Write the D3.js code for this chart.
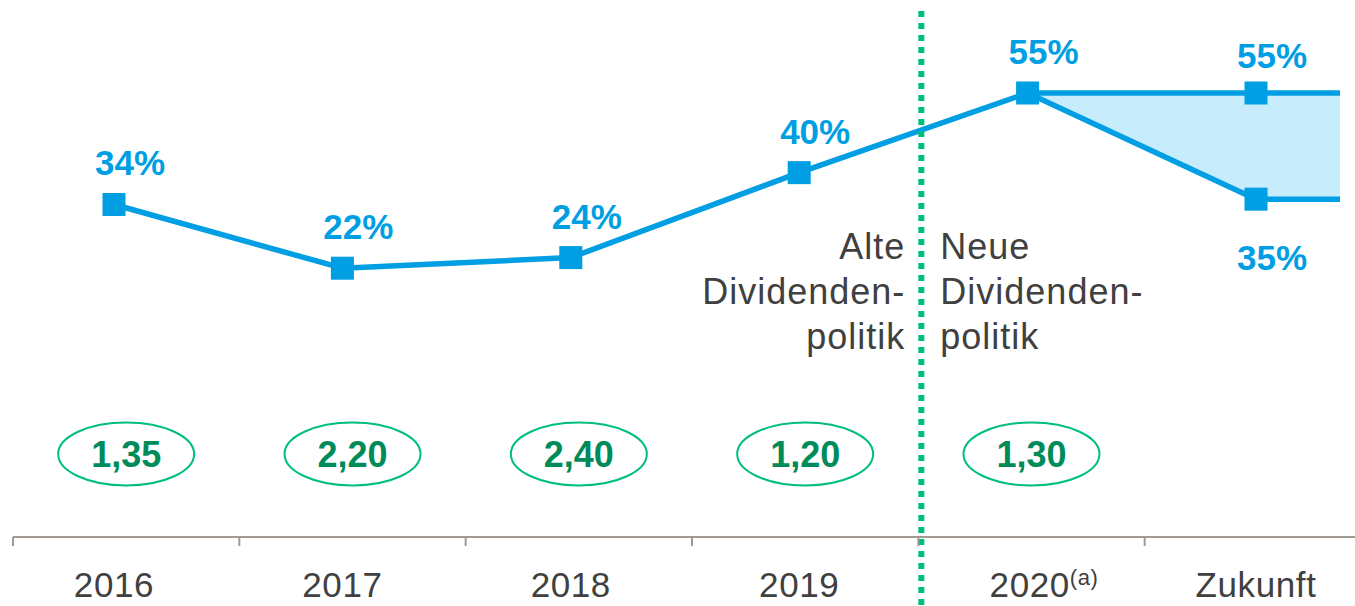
<!DOCTYPE html>
<html>
<head>
<meta charset="utf-8">
<script src="https://cdn.jsdelivr.net/npm/d3@7"></script>
<style>
  html, body { margin: 0; padding: 0; background: #fff; }
  svg { display: block; font-family: "Liberation Sans", Arial, sans-serif; }
</style>
</head>
<body>
<svg id="chart"></svg>
<script>
// categories and values
const categories = ["2016", "2017", "2018", "2019", "2020", "Zukunft"];
const payoutYears = ["2016", "2017", "2018", "2019", "2020"];
const payoutValues = [34, 22, 24, 40, 55];
const futureHigh = 55;
const futureLow = 35;
const dividendValues = [1.35, 2.20, 2.40, 1.20, 1.30];
const oldPolicyLines = ["Alte", "Dividenden-", "politik"];
const newPolicyLines = ["Neue", "Dividenden-", "politik"];

const width = 1355, height = 606;
const blue = "#009fe3", lightBlue = "#c7ecfc";
const green = "#00bf7d", darkGreen = "#008b5a", grey = "#404040";

const svg = d3.select("#chart").attr("width", width).attr("height", height);

// band scale for the axis ticks, point scale for the marks
const xBand = d3.scaleBand().domain(categories).range([13, 1371]);
const x = d3.scalePoint().domain(categories).range([114, 1256]);
const y = d3.scaleLinear().domain([0, 55]).range([385, 93]);
const rightEdge = 1340;
const fmt = v => d3.format(".2f")(v).replace(".", ",");

// range area for the future
const future = [
    {x: x("2020"), hi: 55, lo: 55},
    {x: x("Zukunft"), hi: futureHigh, lo: futureLow},
    {x: rightEdge, hi: futureHigh, lo: futureLow}
];
svg.append("path")
    .datum(future)
    .attr("fill", lightBlue)
    .attr("d", d3.area().x(d => d.x).y0(d => y(d.lo)).y1(d => y(d.hi)));

const line = d3.line().x(d => d.x).y(d => d.y);
svg.append("path")
    .datum(future.map(d => ({x: d.x, y: y(d.hi)})))
    .attr("fill", "none").attr("stroke", blue).attr("stroke-width", 5.5)
    .attr("d", line);
svg.append("path")
    .datum(future.map(d => ({x: d.x, y: y(d.lo)})))
    .attr("fill", "none").attr("stroke", blue).attr("stroke-width", 5.5)
    .attr("d", line);

// main payout line
const mainPts = payoutYears.map((c, i) => ({x: x(c), y: y(payoutValues[i]), v: payoutValues[i]}));
svg.append("path")
    .datum(mainPts)
    .attr("fill", "none").attr("stroke", blue).attr("stroke-width", 5.5)
    .attr("stroke-linejoin", "round")
    .attr("d", line);

const allPts = mainPts.concat([
    {x: x("Zukunft"), y: y(futureHigh), v: futureHigh, dy: -25},
    {x: x("Zukunft"), y: y(futureLow), v: futureLow, dy: 71}
]);

svg.append("g").selectAll("rect")
    .data(allPts).enter()
    .append("rect")
    .attr("x", d => d.x - 11.5)
    .attr("y", d => d.y - 11.5)
    .attr("width", 23).attr("height", 23)
    .attr("fill", blue);

svg.append("g").selectAll("text")
    .data(allPts).enter()
    .append("text")
    .attr("x", d => d.x + 16)
    .attr("y", d => d.y + (d.dy !== undefined ? d.dy : -29))
    .attr("text-anchor", "middle")
    .attr("font-size", 35).attr("font-weight", "bold")
    .attr("fill", blue)
    .text(d => d.v + "%");

// divider between old and new policy
const divX = xBand("2020") + 3;
svg.append("line")
    .attr("x1", divX).attr("x2", divX)
    .attr("y1", 11).attr("y2", height)
    .attr("stroke", green).attr("stroke-width", 6)
    .attr("stroke-dasharray", "6 6");

svg.append("g").selectAll("text")
    .data(oldPolicyLines).enter()
    .append("text")
    .attr("x", divX - 16)
    .attr("y", (d, i) => 259 + i * 45)
    .attr("text-anchor", "end")
    .attr("font-size", 36).attr("letter-spacing", 1)
    .attr("fill", grey)
    .text(d => d);

svg.append("g").selectAll("text")
    .data(newPolicyLines).enter()
    .append("text")
    .attr("x", divX + 19)
    .attr("y", (d, i) => 259 + i * 45)
    .attr("font-size", 36).attr("letter-spacing", 1)
    .attr("fill", grey)
    .text(d => d);

// dividend ovals
const ovals = svg.append("g").selectAll("g")
    .data(dividendValues).enter()
    .append("g")
    .attr("transform", (d, i) => `translate(${xBand(categories[i]) + xBand.bandwidth() / 2},454)`);
ovals.append("ellipse")
    .attr("rx", 68).attr("ry", 31.5)
    .attr("fill", "none").attr("stroke", green).attr("stroke-width", 2);
ovals.append("text")
    .attr("y", 13)
    .attr("text-anchor", "middle")
    .attr("font-size", 36).attr("font-weight", "bold")
    .attr("fill", darkGreen)
    .text(d => fmt(d));

// x axis
const axisY = 537;
const axis = svg.append("g").attr("class", "axis");
axis.append("line")
    .attr("x1", xBand(categories[0])).attr("x2", width)
    .attr("y1", axisY).attr("y2", axisY)
    .attr("stroke", "#a19a92").attr("stroke-width", 2);
axis.selectAll("line.tick")
    .data(categories).enter()
    .append("line")
    .attr("class", "tick")
    .attr("x1", d => xBand(d)).attr("x2", d => xBand(d))
    .attr("y1", axisY).attr("y2", axisY + 9)
    .attr("stroke", "#a19a92").attr("stroke-width", 2);

const labels = axis.selectAll("text")
    .data(categories).enter()
    .append("text")
    .attr("x", d => x(d))
    .attr("y", 597)
    .attr("text-anchor", "middle")
    .attr("font-size", 35).attr("letter-spacing", 0.6)
    .attr("fill", grey);
labels.append("tspan").text(d => d);
labels.filter(d => d === "2020")
    .attr("text-anchor", "start")
    .attr("x", x("2020") - 38)
    .append("tspan")
    .attr("dy", -12)
    .attr("font-size", 22)
    .text("(a)");
</script>
</body>
</html>
